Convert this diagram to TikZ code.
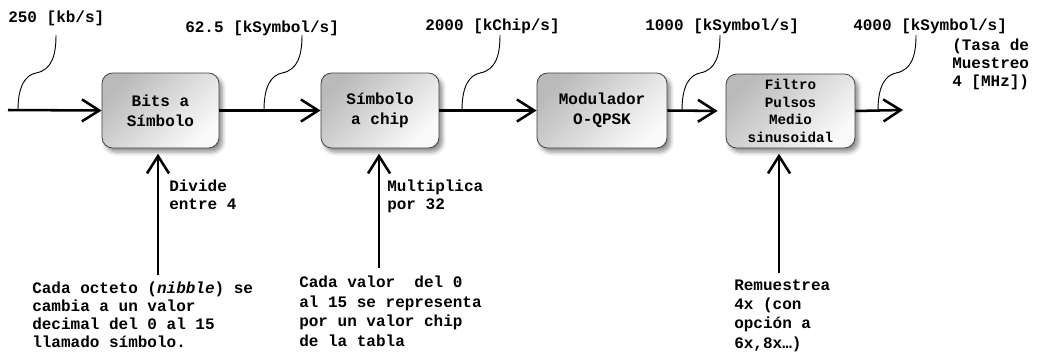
\documentclass[tikz,border=0pt]{standalone}
\usepackage{fontspec}
\setmonofont{Liberation Mono}
\usetikzlibrary{
  arrows.meta,
  shadows.blur,
  positioning,
}
\tikzset{
  >={Straight Barb[length=13pt,width=16.5pt]},
  block/.style={draw=black!75, line width=0.6pt, rounded corners=8pt,
    top color=black!27, bottom color=black!2, shading angle=45,
    blur shadow={shadow xshift=2.5pt, shadow yshift=-3pt, shadow blur radius=3pt, shadow opacity=45},
    minimum height=56.25pt, inner sep=0pt, align=center,
    font=\ttfamily\bfseries\fontsize{12}{15}\selectfont},
  flow/.style={->, line width=1.9pt},
  note/.style={anchor=base west, inner sep=0pt, align=left,
    font=\ttfamily\bfseries\fontsize{12}{13.5}\selectfont},
  brace/.style={line width=0.7pt},
}

\begin{document}
\begin{tikzpicture}[x=0.75pt, y=-0.75pt]
      \useasboundingbox (0, 0) rectangle (1037, 354);

      % blocks
      \node [block, minimum width=87.75pt] (bits) at (160.5, 110.5) {Bits a\\Símbolo};
      \node [block, minimum width=88.5pt] (chip) at (380, 110.5) {Símbolo\\a chip};
      \node [block, minimum width=97.5pt] (mod) at (602, 110.5) {Modulador\\O-QPSK};
      \node [block, minimum width=96.75pt, minimum height=55.5pt,
        font=\ttfamily\bfseries\fontsize{10.7}{13.3}\selectfont] (filt) at (790.5, 111) {Filtro\\Pulsos\\Medio\\sinusoidal};

      % main flow
      \coordinate (in) at (8, 110);
      \coordinate (out) at (903, 110);
      \draw [flow] (in) -- (bits.west);
      \draw [flow] (bits.east) -- (chip.west);
      \draw [flow] (chip.east) -- (mod.west);
      \draw [flow, shorten >=6pt] (mod.east) -- (filt.west);
      \draw [flow] (filt.east) -- (out);

      % rates (base = last line)
      \node [note] (r250) at (8, 22) {250 [kb/s]};
      \node [note] (r625) at (185, 32) {62.5 [kSymbol/s]};
      \node [note] (r2000) at (425, 30) {2000 [kChip/s]};
      \node [note] (r1000) at (645, 30) {1000 [kSymbol/s]};
      \node [note] (r4000) at (853, 30) {4000 [kSymbol/s]};
      \node [note] (tasa) at (952, 86) {(Tasa de\\Muestreo\\4 [MHz])};
      \foreach \x in {18, 264, 462, 682, 878}
      {
        \draw [brace] (\x, 110) .. controls (\x, 85) and (\x + 8, 75) .. (\x + 18, 73)
          .. controls (\x + 34, 70) and (\x + 38, 55) .. (\x + 38, 35);
      }

      % operations
      \coordinate (s1) at (158, 275);
      \coordinate (s2) at (379, 268);
      \coordinate (s4) at (779, 273);
      \draw [flow, shorten >=4pt] (s1) -- (s1 |- bits.south);
      \draw [flow, shorten >=4pt] (s2) -- (s2 |- chip.south);
      \draw [flow, shorten >=4pt] (s4) -- (s4 |- filt.south);
      \node [note] (div) at (169, 209) {Divide\\entre 4};
      \node [note] (mul) at (387, 209) {Multiplica\\por 32};
      \node [note] (nib) at (32, 347) {Cada octeto (\textit{nibble}) se\\cambia a un valor\\decimal del 0 al 15\\llamado símbolo.};
      \node [note, font=\ttfamily\bfseries\fontsize{12}{14.6}\selectfont] (tab) at (299, 346) {Cada valor\ \ del 0\\al 15 se representa\\por un valor chip\\de la tabla};
      \node [note, font=\ttfamily\bfseries\fontsize{12}{14.3}\selectfont] (rem) at (734, 348) {Remuestrea\\4x (con\\opción a\\6x,8x…)};
    \end{tikzpicture}
\end{document}
